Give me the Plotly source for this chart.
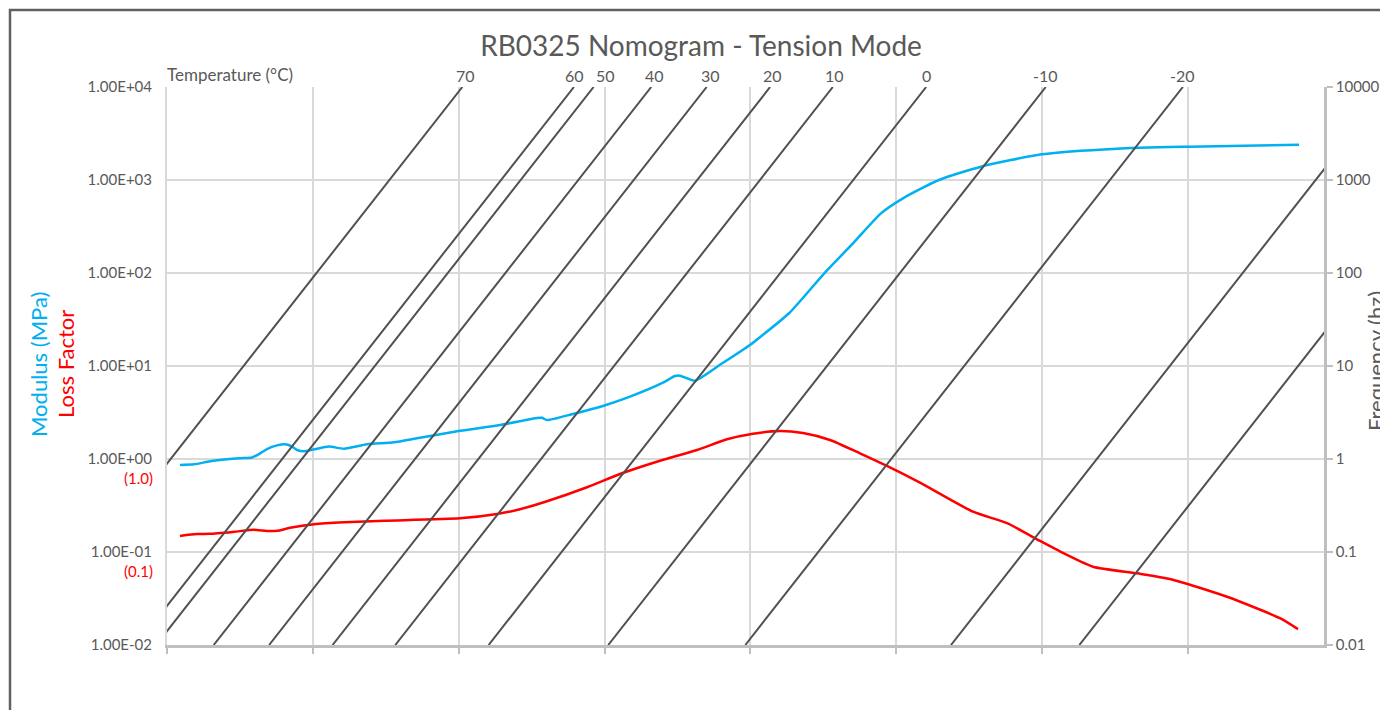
import math
import plotly.graph_objects as go

# ---------------- data ----------------
# isotherm temperatures and their log10 shift factors
temps = [70, 60, 50, 40, 30, 20, 10, 0, -10, -20, -30, -40]
log_aT = [-3.95, -2.42, -2.15, -1.36, -0.60, 0.27, 1.13, 2.41, 4.05, 5.93, 8.75, 10.51]
label_xshift = [3, 1, 12, 3, 4, 2, 2, 0, 0, 0, 0, 0]

# frequency range of isotherm lines (Hz)
freq_ends = [0.01, 10000]

# master curve: log10 reduced frequency and modulus (MPa)
log_fr_mod = [-3.822, -3.630, -3.410, -3.177, -2.999, -2.834, -2.739, -2.629, -2.492, -2.382,
              -2.300, -2.217, -2.121, -1.984, -1.779, -1.573, -1.258, -0.887, -0.572, 0.018,
              0.566, 1.073, 1.142, 1.210, 1.567, 1.978, 2.349, 2.801, 2.966, 3.034,
              3.130, 3.240, 3.583, 3.994, 4.131, 4.529, 5.013, 5.406, 5.790, 6.092,
              6.585, 7.161, 7.998, 9.026, 10.013, 11.522]
modulus = [0.861, 0.877, 0.944, 0.993, 1.02, 1.04, 1.13, 1.28, 1.40, 1.44,
           1.38, 1.25, 1.21, 1.27, 1.36, 1.29, 1.44, 1.51, 1.67, 2.01,
           2.32, 2.76, 2.78, 2.62, 3.05, 3.72, 4.68, 6.61, 7.80, 7.87,
           7.38, 6.95, 10.3, 16.8, 20.4, 36.9, 99.3, 208, 438, 635,
           1000, 1390, 1890, 2170, 2280, 2400]

# loss factor curve
log_fr_lf = [-3.822, -3.589, -3.410, -3.081, -2.807, -2.629, -2.492, -2.313, -1.984, -1.573,
             -1.025, 0.018, 0.525, 0.840, 1.210, 1.759, 2.211, 2.760, 3.267, 3.679,
             4.035, 4.405, 4.721, 5.091, 5.502, 5.872, 6.325, 7.052, 7.518, 7.929,
             8.341, 8.697, 9.300, 9.753, 10.535, 11.261, 11.508]
loss = [0.149, 0.156, 0.157, 0.165, 0.173, 0.168, 0.169, 0.182, 0.199, 0.209,
        0.217, 0.230, 0.256, 0.288, 0.351, 0.497, 0.690, 0.959, 1.25, 1.63,
        1.87, 2.00, 1.90, 1.60, 1.15, 0.841, 0.556, 0.271, 0.204, 0.137,
        0.0929, 0.0695, 0.0590, 0.0513, 0.0330, 0.0194, 0.0148]

left_tickvals = [0.01, 0.1, 1, 10, 100, 1000, 10000]
left_ticktext = ["1.00E-02", "1.00E-01", "1.00E+00", "1.00E+01", "1.00E+02", "1.00E+03", "1.00E+04"]
right_ticktext = ["0.01", "0.1", "1", "10", "100", "1000", "10000"]
lf_marks = [(1, "(1.0)"), (0.1, "(0.1)")]

x_log_range = [-4, 11.865]

# ---------------- figure ----------------
FONT = "Lato"
GREY = "#595959"
CYAN = "#00B0F0"
RED = "#FF0000"

fig = go.Figure()

for T, la in zip(temps, log_aT):
    fig.add_trace(go.Scatter(
        x=[f * 10 ** la for f in freq_ends], y=freq_ends,
        mode="lines", line=dict(color="#505050", width=2),
        yaxis="y2", showlegend=False, hoverinfo="skip"))

fig.add_trace(go.Scatter(
    x=[10 ** v for v in log_fr_mod], y=modulus, mode="lines",
    line=dict(color=CYAN, width=2.5, shape="spline", smoothing=0.6),
    showlegend=False, name="Modulus"))
fig.add_trace(go.Scatter(
    x=[10 ** v for v in log_fr_lf], y=loss, mode="lines",
    line=dict(color=RED, width=2.5, shape="spline", smoothing=0.6),
    showlegend=False, name="Loss Factor"))

W, H = 1380, 710
ml, mr, mt, mb = 167, 56, 87, 65
pw, ph = W - ml - mr, H - mt - mb

def px(x):
    return (x - ml) / pw

def py(y):
    return (H - mb - y) / ph

annotations = []
for T, la, sh in zip(temps, log_aT, label_xshift):
    xl = 4 + la
    if x_log_range[0] <= xl <= x_log_range[1]:
        annotations.append(dict(x=xl, y=1, xref="x", yref="paper", text=str(T),
                                showarrow=False, xanchor="center", yanchor="bottom",
                                xshift=sh, yshift=0,
                                font=dict(family=FONT, size=16, color=GREY)))
annotations.append(dict(x=0, y=1, xref="paper", yref="paper", text="Temperature (°C)",
                        showarrow=False, xanchor="left", yanchor="bottom", yshift=0, xshift=-2,
                        font=dict(family=FONT, size=17, color=GREY)))
for v, t in lf_marks:
    annotations.append(dict(x=0, y=math.log10(v), xref="paper", yref="y", text=t,
                            showarrow=False, xanchor="right", yanchor="middle",
                            xshift=-12, yshift=-19,
                            font=dict(family=FONT, size=15, color=RED)))
annotations.append(dict(x=px(38), y=py(365), xref="paper", yref="paper", text="Modulus (MPa)",
                        textangle=-90, showarrow=False, xanchor="center", yanchor="middle",
                        font=dict(family=FONT, size=22, color=CYAN)))
annotations.append(dict(x=px(65), y=py(364), xref="paper", yref="paper", text="Loss Factor",
                        textangle=-90, showarrow=False, xanchor="center", yanchor="middle",
                        font=dict(family=FONT, size=22, color=RED)))
annotations.append(dict(x=px(1375), y=py(361), xref="paper", yref="paper", text="Frequency (hz)",
                        textangle=-90, showarrow=False, xanchor="center", yanchor="middle",
                        font=dict(family=FONT, size=22, color=GREY)))

fig.update_layout(
    width=W, height=H, autosize=False,
    margin=dict(l=ml, r=mr, t=mt, b=mb, autoexpand=False),
    paper_bgcolor="white", plot_bgcolor="white",
    title=dict(text="RB0325 Nomogram - Tension Mode", x=701 / W, y=1 - 46 / H,
               xanchor="center", yanchor="middle",
               font=dict(family=FONT, size=28, color=GREY)),
    showlegend=False,
    annotations=annotations,
    shapes=[dict(type="rect", xref="paper", yref="paper",
                 x0=px(10), x1=px(1500), y0=py(800), y1=py(10),
                 line=dict(color="#606060", width=2.5), layer="below")],
    xaxis=dict(type="log", range=x_log_range, tick0=-4, dtick=2, automargin=False,
               showgrid=True, gridcolor="#D9D9D9", gridwidth=2,
               showline=True, linecolor="#BFBFBF", linewidth=2.5,
               ticks="outside", ticklen=6, tickwidth=2, tickcolor="#BFBFBF",
               showticklabels=False, zeroline=False),
    yaxis=dict(type="log", range=[-2, 4], tickvals=left_tickvals, ticktext=left_ticktext,
               automargin=False,
               showgrid=True, gridcolor="#D9D9D9", gridwidth=2,
               showline=True, linecolor="#D9D9D9", linewidth=2,
               ticks="outside", ticklen=10, tickcolor="rgba(0,0,0,0)",
               tickfont=dict(family=FONT, size=15, color=GREY), zeroline=False),
    yaxis2=dict(type="log", range=[-2, 4], overlaying="y", side="right",
                tickvals=left_tickvals, ticktext=right_ticktext, automargin=False,
                showgrid=False, showline=True, linecolor="#BFBFBF", linewidth=2.5,
                ticks="outside", ticklen=6, tickwidth=2, tickcolor="#BFBFBF",
                tickfont=dict(family=FONT, size=15, color=GREY), zeroline=False),
)

fig.write_html("out.html",
               config={"responsive": False, "displayModeBar": False},
               post_script="document.body.style.margin='0';document.body.style.overflow='hidden';")
